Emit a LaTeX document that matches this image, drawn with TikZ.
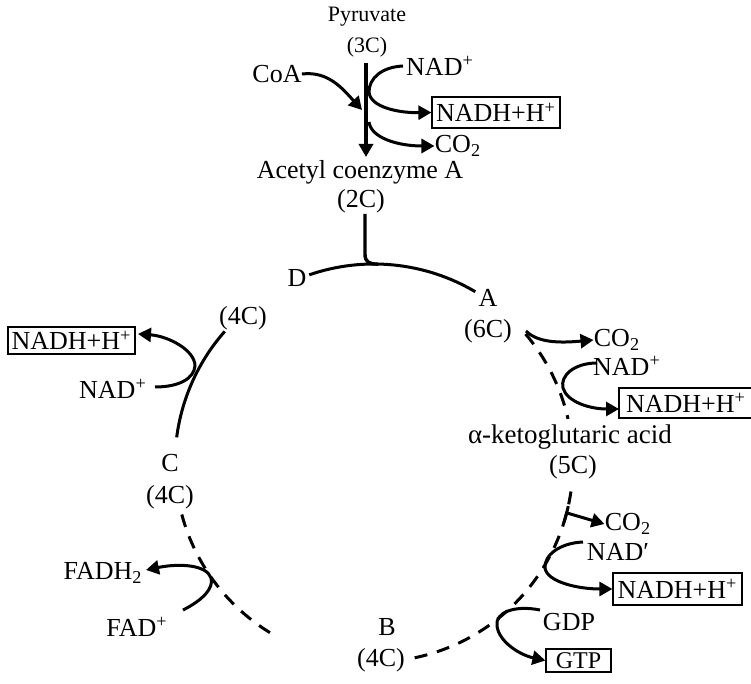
\documentclass[tikz,border=0pt]{standalone}
\usepackage{fontspec}
\setmainfont{Liberation Serif}
\usetikzlibrary{arrows.meta,calc}
\begin{document}
\begin{tikzpicture}[x=0.5pt,y=-0.5pt,
  lbl/.style={inner sep=0pt, font=\fontsize{13}{15}\selectfont},
  small/.style={inner sep=0pt, font=\fontsize{11}{13}\selectfont},
  boxed/.style={draw, line width=0.6pt, inner sep=0pt, font=\fontsize{13}{15}\selectfont},
  flow/.style={line width=1.5pt, -{Triangle[length=6.5pt,width=7pt]}},
  ring/.style={line width=1.5pt},
  ringdash/.style={line width=1.5pt, dash pattern=on 6.5pt off 5pt},
]
\useasboundingbox (0,0) rectangle (751,684);

% ---------- top: pyruvate -> acetyl CoA ----------
\node[small] (pyr) at (367,17) {Pyruvate};
\node[small] (pyr3) at (367,47) {(3C)};
\node[lbl] (coa) at (277,74) {CoA};
\node[lbl] (nad1) at (440,66) {NAD\textsuperscript{+}};
\node[boxed, minimum width=64pt, minimum height=15.5pt] (nadh1) at (496,112.5) {NADH+H\textsuperscript{+}};
\node[lbl] (co2a) at (458,146) {CO\textsubscript{2}};
\node[lbl] (acoa) at (360,172) {Acetyl coenzyme A};
\node[lbl] (ac2) at (361,201) {(2C)};

\coordinate (vtop) at (366,63);
\coordinate (vbot) at (366,157);
\draw[flow, line width=2pt] (vtop) -- (vbot);

\coordinate (coaEnd) at (362,110);
\draw[flow] (coa.east) .. controls (328,71) and (342,88) .. (coaEnd);

\coordinate (n1s) at (403,66);
\draw[flow] (n1s) .. controls (382,67) and (369,78) .. (369,92)
  .. controls (370,107) and (398,113) .. (nadh1.west);

\coordinate (c1s) at (369,122);
\draw[flow] (c1s) .. controls (371,138) and (398,146) .. (co2a.west);

% ---------- junction into the cycle ----------
\coordinate (jTop) at (365,214);
\coordinate (jIn) at (378,264.1);
\draw[ring, line width=1.7pt] (jTop) -- (365,254) .. controls (365,262) and (369,264.2) .. (jIn);

% ---------- the cycle ----------
\coordinate (O) at (374,463);
\draw[ring] ($(O)+(-109:199)$) arc[start angle=-109, end angle=-59.4, radius=199];
\draw[ring] ($(O)+(187.4:199)$) arc[start angle=187.4, end angle=221.4, radius=199];
\draw[ringdash] ($(O)+(165:199)$) arc[start angle=165, end angle=119, radius=199];
\draw[ringdash] ($(O)+(78.2:199)$) arc[start angle=78.2, end angle=5.7, radius=199];
\draw[ringdash] ($(O)+(-40.4:199)$) arc[start angle=-40.4, end angle=-12.8, radius=199];

\node[lbl] (D) at (297,278) {D};
\node[lbl] (A) at (488,298) {A};
\node[lbl] (A6) at (488,331) {(6C)};
\node[lbl] (D4) at (243,318) {(4C)};
\node[lbl] (C) at (170,463) {C};
\node[lbl] (C4) at (170,497) {(4C)};
\node[lbl] (B) at (387,627) {B};
\node[lbl] (B4) at (381,660) {(4C)};

% ---------- left: D -> C (NAD) ----------
\node[lbl] (nad3) at (113,389) {NAD\textsuperscript{+}};
\node[boxed, minimum width=63.5pt, minimum height=13.5pt] (nadh3) at (71.5,340.5) {NADH+H\textsuperscript{+}};
\coordinate (n3s) at (155,387);
\coordinate (n3e) at (138,334);
\draw[flow] (n3s) .. controls (180,387) and (194,378) .. (195,366)
  .. controls (195,350) and (168,336) .. (n3e);

% ---------- left: C -> B (FAD) ----------
\node[lbl] (fadh) at (103,573) {FADH\textsubscript{2}};
\node[lbl] (fad) at (137,627) {FAD\textsuperscript{+}};
\coordinate (fs) at (183,610);
\coordinate (fe) at (146,570);
\draw[flow] (fs) .. controls (203,600) and (214,588) .. (211,578)
  .. controls (207,565) and (180,563) .. (fe);

% ---------- right: A -> alpha-ketoglutarate ----------
\node[lbl] (co2b) at (617,340) {CO\textsubscript{2}};
\coordinate (c2s) at (526,331);
\draw[flow] (c2s) .. controls (538,343) and (560,343) .. (co2b.west);

\node[lbl] (nad2) at (627,366) {NAD\textsuperscript{+}};
\node[boxed, minimum width=67pt, minimum height=15pt] (nadh2) at (686,403) {NADH+H\textsuperscript{+}};
\coordinate (n2s) at (597,363);
\coordinate (n2e) at (619,409);
\draw[flow] (n2s) .. controls (575,363) and (560,375) .. (563,388)
  .. controls (567,402) and (590,409) .. (n2e);

\node[lbl, font=\fontsize{13.5}{15}\selectfont] (akg) at (570,437) {α-ketoglutaric acid};
\node[lbl] (akg5) at (573,467) {(5C)};

% ---------- right: alpha-ketoglutarate -> B ----------
\node[lbl] (co2c) at (628,524) {CO\textsubscript{2}};
\draw[ring] ($(O)+(12.5:199)$) arc[start angle=12.5, end angle=17.3, radius=199];
\coordinate (c3s) at (567,513);
\draw[flow] (c3s) -- (co2c.west);

\node[lbl] (nad4) at (618,552) {NAD′};
\node[boxed, minimum width=64.5pt, minimum height=16pt] (nadh4) at (677.5,589) {NADH+H\textsuperscript{+}};
\coordinate (n4s) at (583,542);
\draw[flow] (n4s) .. controls (560,543) and (544,555) .. (545,568)
  .. controls (547,582) and (578,589) .. (nadh4.west);

\node[lbl] (gdp) at (569,622) {GDP};
\node[boxed, minimum width=32.5pt, minimum height=11.5pt, font=\fontsize{12}{14}\selectfont] (gtp) at (578.5,660.5) {GTP};
\coordinate (gs) at (540,610);
\draw[flow] (gs) .. controls (515,605) and (495,612) .. (497,626)
  .. controls (499,642) and (520,655) .. (gtp.west);
\end{tikzpicture}
\end{document}
